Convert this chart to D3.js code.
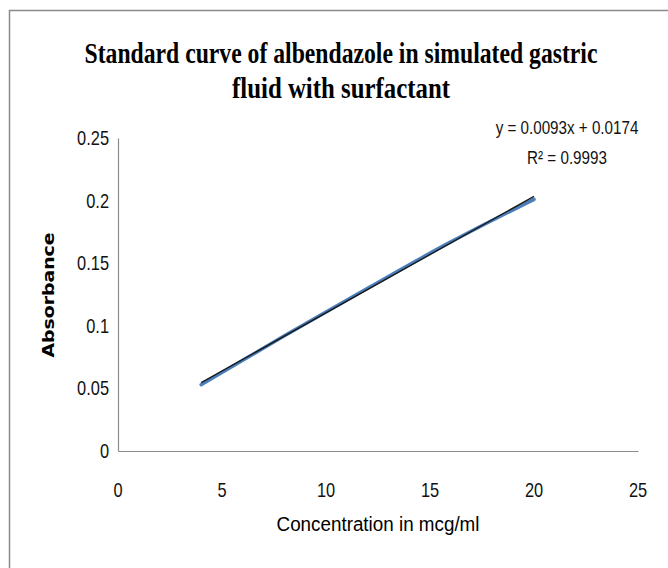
<!DOCTYPE html>
<html><head><meta charset="utf-8">
<script src="https://cdn.jsdelivr.net/npm/d3@7"></script>
<style>html,body{margin:0;padding:0;background:#fff;}svg{display:block;}</style>
</head><body>
<script>
const concentration = [4, 8, 12, 16, 20];
const absorbance = [0.053, 0.092, 0.130, 0.167, 0.201];
const trendSlope = 0.0093;
const trendIntercept = 0.0174;
const xTicks = [0, 5, 10, 15, 20, 25];
const yTicks = [0, 0.05, 0.1, 0.15, 0.2, 0.25];
const titleLines = ["Standard curve of albendazole in simulated gastric", "fluid with surfactant"];
const eqLines = ["y = 0.0093x + 0.0174", "R\u00B2 = 0.9993"];

const W = 668, H = 568;
const svg = d3.select("body").append("svg").attr("width", W).attr("height", H);
svg.append("rect").attr("width", W).attr("height", H).attr("fill", "#fff");
svg.append("path").attr("d", "M9.5,568 V10.5 H668").attr("fill", "none").attr("stroke", "#8a8a8a").attr("stroke-width", 1.5);

const x = d3.scaleLinear().domain([0, 25]).range([118, 638]);
const y = d3.scaleLinear().domain([0, 0.25]).range([451, 138]);
const sans = "'Liberation Sans',Arial,sans-serif";

// place a text horizontally compressed via a scale transform
function condensed(parent, str, cx, cy, opts) {
  const g = parent.append("g");
  const t = g.append("text").attr("x", 0).attr("y", 0)
    .attr("text-anchor", opts.anchor || "middle")
    .attr("font-family", opts.family).attr("font-size", opts.size)
    .attr("font-weight", opts.weight || "normal").attr("fill", opts.fill || "#111")
    .text(str);
  let sx = opts.sx || 1;
  if (opts.width) sx = opts.width / t.node().getComputedTextLength();
  g.attr("transform", `translate(${cx},${cy}) scale(${sx},1)`);
  return g;
}

const xAxis = svg.append("g").attr("transform", "translate(0,451)")
  .call(d3.axisBottom(x).tickValues(xTicks).tickSize(0).tickFormat(""));
xAxis.select(".domain").attr("stroke", "#8c8c8c").attr("stroke-width", 1.2);
xTicks.forEach(v => condensed(svg, d3.format("d")(v), x(v), 497, {family: sans, size: 20, sx: 0.82}));

const yAxis = svg.append("g").attr("transform", "translate(118,0)")
  .call(d3.axisLeft(y).tickValues(yTicks).tickSize(0).tickFormat(""));
yAxis.select(".domain").attr("stroke", "#8c8c8c").attr("stroke-width", 1.2);
yTicks.forEach(v => condensed(svg, v === 0 ? "0" : String(+v.toFixed(2)), 109, y(v) + 7, {family: sans, size: 20, sx: 0.82, anchor: "end"}));

const line = d3.line().x(d => x(d[0])).y(d => y(d[1])).curve(d3.curveMonotoneX);
const pts = concentration.map((c, i) => [c, absorbance[i]]);
svg.append("path").datum(pts).attr("d", line).attr("fill", "none")
  .attr("stroke", "#4a7ebb").attr("stroke-width", 3.5).attr("stroke-linecap", "round");

const x0 = d3.min(concentration), x1 = d3.max(concentration);
svg.append("path").datum([[x0, trendSlope * x0 + trendIntercept], [x1, trendSlope * x1 + trendIntercept]])
  .attr("d", d3.line().x(d => x(d[0])).y(d => y(d[1])))
  .attr("fill", "none").attr("stroke", "#1a1a1a").attr("stroke-width", 1.4);

const serif = "'Liberation Serif','Times New Roman',serif";
titleLines.forEach((s, i) => condensed(svg, s, 341, 63 + i * 35,
  {family: serif, size: 29, weight: "bold", fill: "#000", width: i === 0 ? 513 : 218}));

eqLines.forEach((s, i) => condensed(svg, s, 567, 134 + i * 30, {family: sans, size: 19, sx: 0.8}));

condensed(svg, "Concentration in mcg/ml", 378, 531, {family: sans, size: 21, fill: "#000", width: 203});

svg.append("text").attr("transform", "translate(54,295) rotate(-90)").attr("text-anchor", "middle")
  .attr("font-family", "'DejaVu Sans',sans-serif").attr("font-weight", "bold").attr("font-size", 16)
  .attr("textLength", 125).attr("lengthAdjust", "spacingAndGlyphs")
  .attr("fill", "#000").text("Absorbance");
</script>
</body></html>
